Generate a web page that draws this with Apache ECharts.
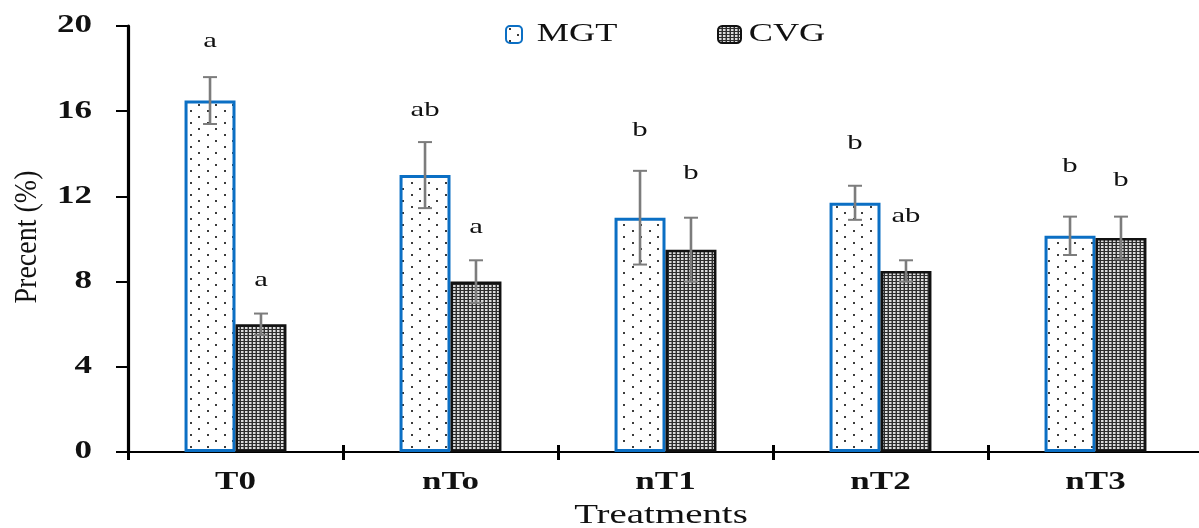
<!DOCTYPE html>
<html><head><meta charset="utf-8">
<script src="https://cdn.jsdelivr.net/npm/echarts@6/dist/echarts.min.js"></script>
<style>html,body{margin:0;padding:0;background:#fff;overflow:hidden}#c{width:1199px;height:528px}</style>
</head><body><div id="c"></div>
<script>
const categories = ['T0', 'nTo', 'nT1', 'nT2', 'nT3'];
const mgt = [16.5, 13.0, 11.0, 11.7, 10.15];
const mgtErr = [1.1, 1.55, 2.2, 0.8, 0.9];
const cvg = [6.0, 8.0, 9.5, 8.5, 10.05];
const cvgErr = [0.5, 1.0, 1.5, 0.5, 1.0];
const mgtLetters = ['a', 'ab', 'b', 'b', 'b'];
const cvgLetters = ['a', 'a', 'b', 'ab', 'b'];
const mgtLetterY = [19.3, 16.05, 15.1, 14.5, 13.4];
const cvgLetterY = [8.07, 10.56, 13.1, 11.08, 12.77];
const yTicks = [0, 4, 8, 12, 16, 20];
const xTitle = 'Treatments';
const yTitle = 'Precent (%)';

const SERIF = '"Liberation Serif", "Times New Roman", serif';
const SX = 1.4;          // horizontal stretch of the reference's text
const BW = 0.237;        // bar width as a share of the category

function dotPattern() {
  const c = document.createElement('canvas');
  c.width = 17; c.height = 12;
  const g = c.getContext('2d');
  g.fillStyle = '#fff'; g.fillRect(0, 0, 17, 12);
  g.fillStyle = '#3c3c3c';
  g.fillRect(3, 2, 2, 2);
  g.fillRect(11, 8, 2, 2);
  return c;
}
function densePattern() {
  const c = document.createElement('canvas');
  c.width = 4; c.height = 3;
  const g = c.getContext('2d');
  g.fillStyle = '#2e2e2e'; g.fillRect(0, 0, 4, 3);
  g.fillStyle = '#dcdcdc';
  g.fillRect(1, 0, 2, 2);
  g.fillStyle = '#8a8a8a';
  g.fillRect(3, 0, 1, 2);
  return c;
}
const dotImg = dotPattern();
const denseImg = densePattern();

function txt(text, x, y, font, opts) {
  return Object.assign({
    type: 'text', x: x, y: y, scaleX: SX,
    style: { text: text, font: font, fill: '#111', align: 'center', verticalAlign: 'middle' }
  }, opts || {});
}

function errSeries(vals, errs, letters, letterY, sign) {
  return {
    type: 'custom', clip: false, z: 5, silent: true,
    data: vals.map((v, i) => [i, v, errs[i], letterY[i]]),
    renderItem: function (params, api) {
      const i = api.value(0), v = api.value(1), e = api.value(2), ly = api.value(3);
      const bw = api.size([1, 0])[0] * BW;
      const cx = api.coord([i, v])[0] + sign * bw / 2;
      const top = api.coord([i, v + e])[1];
      const bot = api.coord([i, v - e])[1];
      const lyp = api.coord([i, ly])[1];
      const st = { stroke: '#7c7c7c', lineWidth: 2 };
      return {
        type: 'group',
        children: [
          { type: 'line', shape: { x1: cx, y1: top, x2: cx, y2: bot }, style: { stroke: '#7c7c7c', lineWidth: 2.6 } },
          { type: 'line', shape: { x1: cx - 7, y1: top, x2: cx + 7, y2: top }, style: st },
          { type: 'line', shape: { x1: cx - 7, y1: bot, x2: cx + 7, y2: bot }, style: st },
          txt(letters[params.dataIndex], cx, lyp, '22px ' + SERIF)
        ]
      };
    }
  };
}

const xLabelSeries = {
  type: 'custom', clip: false, silent: true,
  data: categories.map((c, i) => [i, 0]),
  renderItem: function (params, api) {
    const p = api.coord([api.value(0), 0]);
    return txt(categories[params.dataIndex], p[0], p[1] + 31, 'bold 25px ' + SERIF);
  }
};
const yLabelSeries = {
  type: 'custom', clip: false, silent: true,
  data: yTicks.map(v => [0, v]),
  renderItem: function (params, api) {
    const y = api.coord([0, api.value(1)])[1];
    const x = params.coordSys.x - 36;
    const s = String(yTicks[params.dataIndex]);
    return txt(s, x, y, 'bold 25px ' + SERIF,
      { style: { text: s, font: 'bold 25px ' + SERIF, fill: '#111', align: 'right', verticalAlign: 'middle' } });
  }
};

const chart = echarts.init(document.getElementById('c'), null, { renderer: 'canvas' });
chart.setOption({
  animation: false,
  backgroundColor: '#fff',
  grid: { left: 128, right: -4, top: 26, bottom: 76, outerBoundsMode: 'none', containLabel: false },
  legend: [{
    data: ['MGT'], left: 505, top: 25, padding: 0, itemWidth: 16, itemHeight: 17, formatter: () => '',
    selectedMode: false
  }, {
    data: ['CVG'], left: 717, top: 25, padding: 0, itemWidth: 23, itemHeight: 17, formatter: () => '',
    selectedMode: false
  }],
  graphic: [
    txt('MGT', 577, 34, '25px ' + SERIF, { scaleX: 1.45 }),
    txt('CVG', 787, 34, '25px ' + SERIF, { scaleX: 1.45 }),
    txt(xTitle, 661, 516, '27px ' + SERIF, { scaleX: 1.44 }),
    {
      type: 'text', x: 28, y: 237, rotation: Math.PI / 2, scaleY: 1.1,
      style: { text: yTitle, font: '28px ' + SERIF, fill: '#111', align: 'center', verticalAlign: 'middle' }
    }
  ],
  xAxis: [{
    type: 'category', data: categories,
    axisLine: { lineStyle: { color: '#000', width: 2.2 } },
    axisTick: { show: true, length: 8, lineStyle: { color: '#000', width: 3 } },
    axisLabel: { show: false }
  }, {
    type: 'category', data: categories, position: 'bottom',
    axisLine: { show: false },
    axisTick: { show: true, inside: true, length: 7, lineStyle: { color: '#000', width: 3 } },
    axisLabel: { show: false }
  }],
  yAxis: {
    type: 'value', min: 0, max: 20, interval: 4,
    axisLine: { show: true, lineStyle: { color: '#000', width: 3.2 } },
    axisTick: { show: true, length: 12, lineStyle: { color: '#000', width: 2 } },
    splitLine: { show: false },
    axisLabel: { show: false }
  },
  series: [
    {
      name: 'MGT', type: 'bar', data: mgt, barWidth: (BW * 100) + '%', barGap: '0%',
      itemStyle: { color: { image: dotImg, repeat: 'repeat' }, borderColor: '#0b6fc4', borderWidth: 3 }
    },
    {
      name: 'CVG', type: 'bar', data: cvg, barWidth: (BW * 100) + '%', barGap: '0%',
      itemStyle: { color: { image: denseImg, repeat: 'repeat' }, borderColor: '#111', borderWidth: 2.6 }
    },
    errSeries(mgt, mgtErr, mgtLetters, mgtLetterY, -1),
    errSeries(cvg, cvgErr, cvgLetters, cvgLetterY, 1),
    xLabelSeries,
    yLabelSeries
  ]
});
</script>
</body></html>
